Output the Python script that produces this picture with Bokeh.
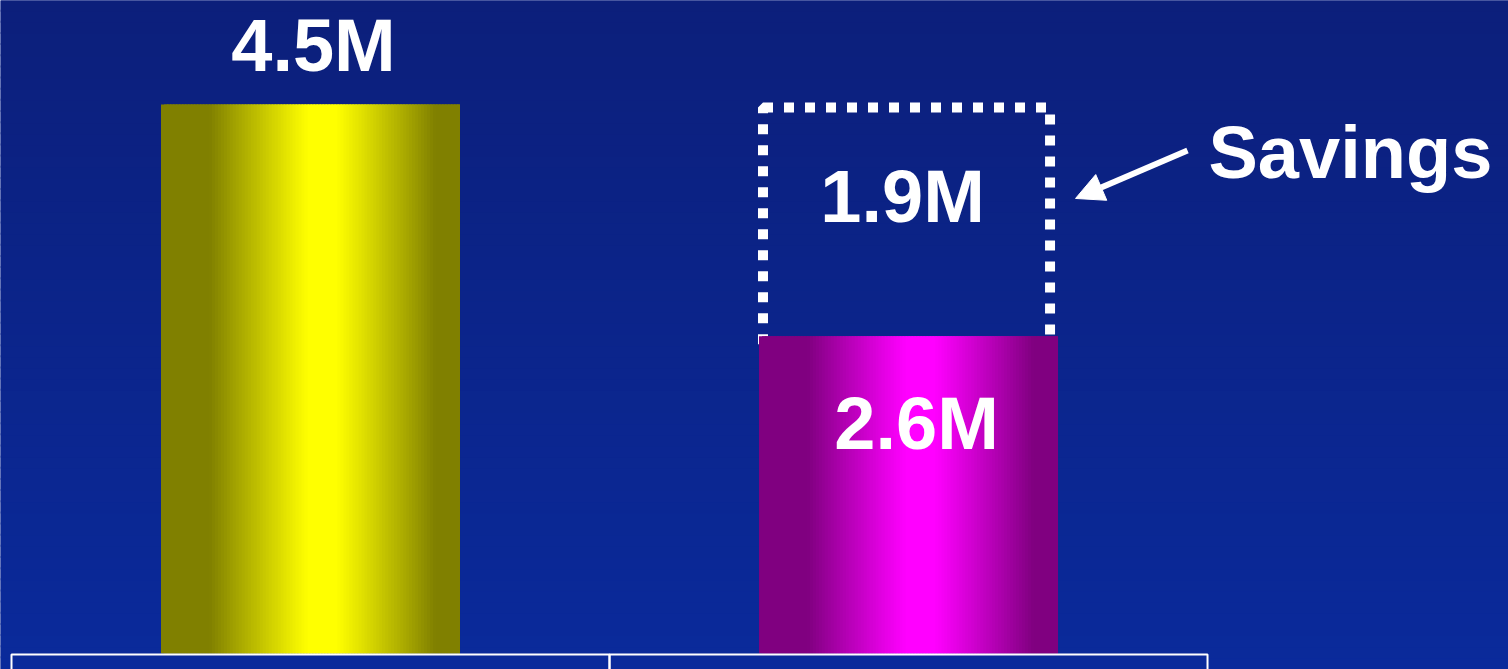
import numpy as np
from bokeh.plotting import figure
from bokeh.models import Range1d, Arrow, NormalHead
from bokeh.core.properties import value
from bokeh.embed import file_html
from bokeh.resources import INLINE

# ---- data ----
categories = ["Before", "After"]
bar_values = [4.5, 2.6]
bar_labels = ["4.5M", "2.6M"]
savings_value = 1.9
savings_label = "1.9M"
annotation_text = "Savings"

# ---- style ----
W, H = 1508, 669
FONT = value("Liberation Sans")
bar_x = [1, 2]
bar_w = 0.5
edge_rgb = [(128, 128, 0), (128, 0, 128)]
peak_rgb = [(255, 255, 0), (255, 0, 255)]

x0, x1 = 0.4816, 3.0033
y0, y1 = -0.131, 5.352
pxx = (x1 - x0) / W   # data per pixel, x
pxy = (y1 - y0) / H   # data per pixel, y
TXT_SHIFT = 29        # baseline correction, px

p = figure(width=W, height=H, output_backend="svg", toolbar_location=None,
           x_range=Range1d(x0, x1), y_range=Range1d(y0, y1), min_border=0)
p.axis.visible = False
p.grid.visible = False
p.outline_line_color = None
p.background_fill_color = "#0b2590"
p.border_fill_color = "#0b2590"

# background vertical gradient
n_bg = 60
edges = np.linspace(y0, y1, n_bg + 1)
top_c = np.array([12, 31, 123])
bot_c = np.array([10, 42, 155])
bg_cols = []
for i in range(n_bg):
    t = (i + 0.5) / n_bg
    c = bot_c + (top_c - bot_c) * t
    bg_cols.append("#%02x%02x%02x" % tuple(int(round(v)) for v in c))
p.quad(left=x0, right=x1, bottom=edges[:-1], top=edges[1:] + 2 * pxy, fill_color=bg_cols,
       line_color=None)

# savings dotted box (drawn under the second bar)
base = bar_values[1]
total = base + savings_value
p.quad(left=[bar_x[1] - 0.24 - 2 * pxx], right=[bar_x[1] + 0.24 - 2 * pxx],
       bottom=[base - 12 * pxy], top=[total - 3 * pxy],
       fill_alpha=0, line_color="white", line_width=10, line_dash="10 11")

# bars with horizontal (cylinder) gradient drawn as overlapping thin strips
n_strips = 100
def shade(t):
    # t: 0..1 across bar; peak slightly right of centre
    d = abs(t - 0.54) / 0.46
    k = np.clip((d - 0.10) / 0.72, 0, 1)
    return 1 - k ** 1.05

for xi, v, e, pk in zip(bar_x, bar_values, edge_rgb, peak_rgb):
    step = bar_w / n_strips
    lefts = xi - bar_w / 2 + np.arange(n_strips) * step
    rights = np.minimum(lefts + 2.5 * step, xi + bar_w / 2)
    cols = []
    for j in range(n_strips):
        s = shade((j + 0.5) / n_strips)
        c = [e[k] + (pk[k] - e[k]) * s for k in range(3)]
        cols.append("#%02x%02x%02x" % tuple(int(round(q)) for q in c))
    p.quad(left=lefts, right=rights, bottom=0, top=v, fill_color=cols, line_color=None)

# category table cell borders below bars
p.quad(left=[b - 0.5 for b in bar_x], right=[b + 0.5 for b in bar_x],
       top=-1 * pxy, bottom=-0.6, fill_alpha=0, line_color="white", line_width=2)

# labels
txt = dict(text_font=FONT, text_font_style="bold", text_font_size="74px",
           text_color="white", text_align="center", text_baseline="alphabetic")
p.text(x=[bar_x[0] + 3 * pxx], y=[bar_values[0] + (30 + TXT_SHIFT) * pxy], text=[bar_labels[0]], **txt)
p.text(x=[bar_x[1] + 8 * pxx], y=[bar_values[1] - (116 - TXT_SHIFT) * pxy], text=[bar_labels[1]], **txt)
p.text(x=[bar_x[1] - 6 * pxx], y=[total - (121 - TXT_SHIFT) * pxy], text=[savings_label], **txt)
p.text(x=[bar_x[1] + 300 * pxx], y=[total - (77 - TXT_SHIFT) * pxy], text=[annotation_text],
       **{**txt, "text_align": "left"})

# arrow pointing to the savings box
p.add_layout(Arrow(end=NormalHead(size=28, fill_color="white", line_color="white", line_width=1),
                   x_start=bar_x[1] + 279 * pxx, y_start=total - 46 * pxy,
                   x_end=bar_x[1] + 167 * pxx, y_end=total - 94 * pxy,
                   line_color="white", line_width=6))

open("out.html", "w").write(file_html(p, INLINE))
